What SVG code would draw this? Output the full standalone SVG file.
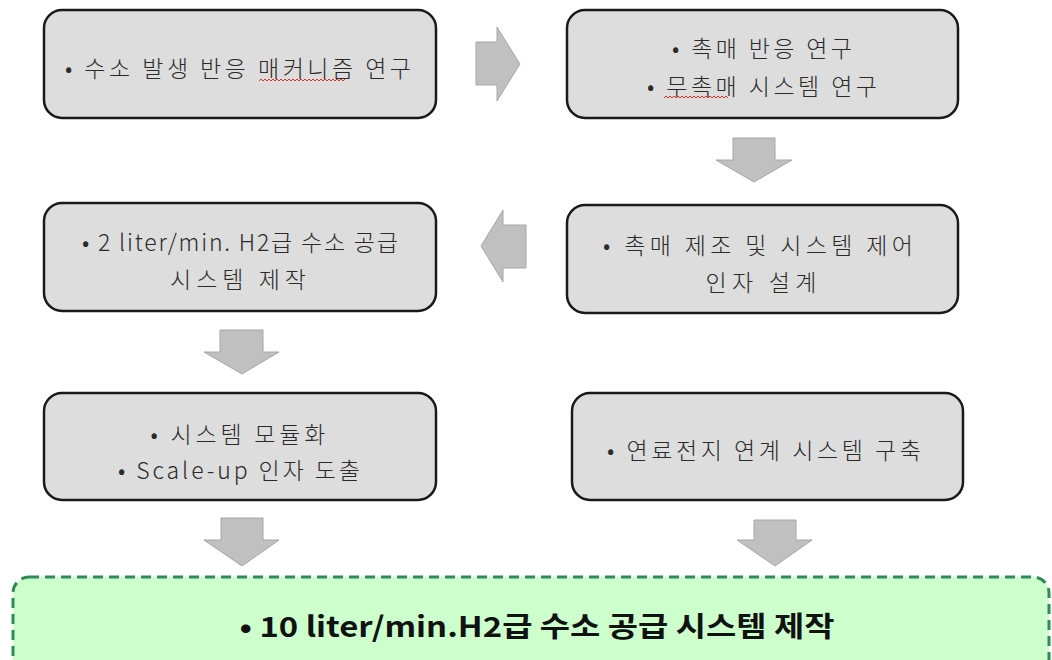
<svg xmlns="http://www.w3.org/2000/svg" width="1052" height="660" viewBox="0 0 1052 660">
<style>
.box{fill:#dddddd;stroke:#1a1a1a;stroke-width:2.5}
.t{font-family:"Noto Sans CJK KR","Noto Sans",sans-serif;font-size:23px;font-weight:300;fill:#2a2a2a;text-anchor:middle}
.arr{fill:#c0c0c0;stroke:#a6a6a6;stroke-width:1}
.sq{fill:none;stroke:#e03030;stroke-width:1}
</style>
<rect width="1052" height="660" fill="#ffffff"/>
<g id="connectors">
<polygon class="arr" points="476,42 497,42 497,27 520,64 497,101 497,85 476,85"/>
<polygon class="arr" points="733,138 775,138 775,160 792,160 754,182 716,160 733,160"/>
<polygon class="arr" points="526,225 503,225 503,210 481,246 503,282 503,268 526,268"/>
<polygon class="arr" points="220,330 263,330 263,352 279,352 242,374 204,352 220,352"/>
<polygon class="arr" points="221,518 263,518 263,540 279,540 242,566 204,540 221,540"/>
<polygon class="arr" points="754,520 796,520 796,540 812,540 775,566 737,540 754,540"/>
</g>
<g id="n1">
<rect class="box" x="44" y="10" width="392" height="108" rx="18"/>
<text class="t" x="238" y="77" textLength="346" lengthAdjust="spacing">• 수소 발생 반응 매커니즘 연구</text>
<path class="sq" d="M259,81 l2,-2 l2,2 l2,-2 l2,2 l2,-2 l2,2 l2,-2 l2,2 l2,-2 l2,2 l2,-2 l2,2 l2,-2 l2,2 l2,-2 l2,2 l2,-2 l2,2 l2,-2 l2,2 l2,-2 l2,2 l2,-2 l2,2 l2,-2 l2,2 l2,-2 l2,2 l2,-2 l2,2 l2,-2 l2,2 l2,-2 l2,2 l2,-2 l2,2 l2,-2 l2,2 l2,-2 l2,2 l2,-2 l2,2 l2,-2"/>
</g>
<g id="n2">
<rect class="box" x="567" y="10" width="391" height="108" rx="18"/>
<text class="t" x="762" y="57" textLength="180" lengthAdjust="spacing">• 촉매 반응 연구</text>
<text class="t" x="762" y="95" textLength="230" lengthAdjust="spacing">• 무촉매 시스템 연구</text>
<path class="sq" d="M664,98 l2,-2 l2,2 l2,-2 l2,2 l2,-2 l2,2 l2,-2 l2,2 l2,-2 l2,2 l2,-2 l2,2 l2,-2 l2,2 l2,-2 l2,2 l2,-2 l2,2 l2,-2 l2,2 l2,-2 l2,2 l2,-2 l2,2 l2,-2 l2,2 l2,-2 l2,2 l2,-2 l2,2 l2,-2 l2,2"/>
</g>
<g id="n3">
<rect class="box" x="44" y="203" width="392" height="108" rx="18"/>
<text class="t" x="240" y="251" textLength="316" lengthAdjust="spacing">• 2 liter/min. H2급 수소 공급</text>
<text class="t" x="238" y="288" textLength="136" lengthAdjust="spacing">시스템 제작</text>
</g>
<g id="n4">
<rect class="box" x="567" y="205" width="391" height="108" rx="18"/>
<text class="t" x="758" y="254" textLength="310" lengthAdjust="spacing">• 촉매 제조 및 시스템 제어</text>
<text class="t" x="761" y="291" textLength="111" lengthAdjust="spacing">인자 설계</text>
</g>
<g id="n5">
<rect class="box" x="44" y="393" width="392" height="107" rx="18"/>
<text class="t" x="238" y="443" textLength="175" lengthAdjust="spacing">• 시스템 모듈화</text>
<text class="t" x="239" y="479" textLength="242" lengthAdjust="spacing">• Scale-up 인자 도출</text>
</g>
<g id="n6">
<rect class="box" x="572" y="393" width="391" height="107" rx="18"/>
<text class="t" x="764" y="459" textLength="314" lengthAdjust="spacing">• 연료전지 연계 시스템 구축</text>
</g>
<g id="n7">
<rect x="13" y="577" width="1036" height="110" rx="16" fill="#ccffcc" stroke="#2e8b57" stroke-width="3" stroke-dasharray="10,6"/>
<text x="537" y="637" font-family="'Noto Sans CJK KR','Noto Sans',sans-serif" font-size="28" font-weight="bold" fill="#111" text-anchor="middle" textLength="595" lengthAdjust="spacingAndGlyphs">• 10 liter/min.H2급 수소 공급 시스템 제작</text>
</g>
</svg>
